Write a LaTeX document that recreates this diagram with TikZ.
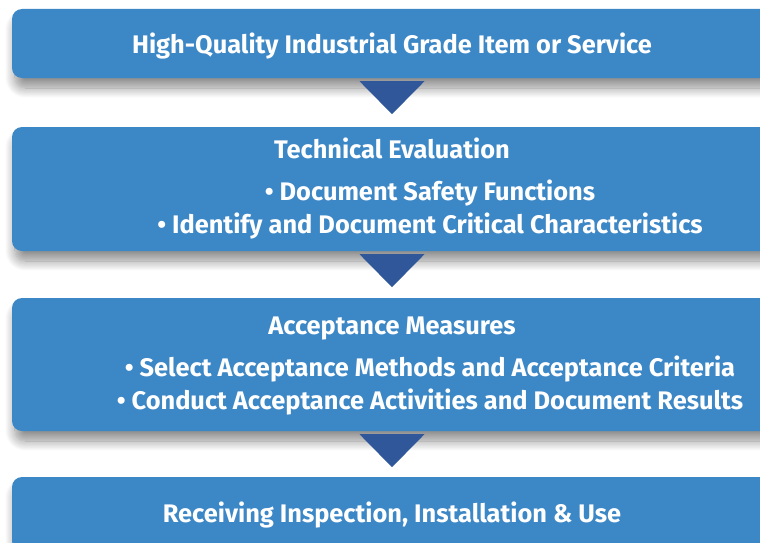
\documentclass[tikz,border=0pt]{standalone}
\usepackage{fontspec}
\setmainfont{Fira Sans}
\usetikzlibrary{calc,shadows.blur}

\definecolor{boxblue}{RGB}{60,135,198}
\definecolor{tridark}{RGB}{47,87,153}

\tikzset{
    stagebox/.style={fill=boxblue, rounded corners=10pt, minimum width=760pt,
        inner sep=0pt,
        blur shadow={shadow xshift=3pt, shadow yshift=-10pt, shadow blur radius=10pt,
            shadow blur steps=12, shadow opacity=45}},
    txt/.style={text=white, anchor=base, inner sep=0pt,
        font=\fontsize{25.4}{29}\selectfont\bfseries}
}

\begin{document}
\begin{tikzpicture}[x=1pt, y=-1pt]
            \useasboundingbox (0,0) rectangle (760,543);

            \node (B1) at (392,43.5) [stagebox, minimum height=69pt] {};
            \node (B2) at (392,189) [stagebox, minimum height=124pt] {};
            \node (B3) at (392,364.5) [stagebox, minimum height=133pt] {};
            \node (B4) at (392,514) [stagebox, minimum height=74pt] {};

            \foreach \n in {B1, B2, B3}
                {
                    \fill [tridark] ($(\n.south) + (-32.5,3)$) -- ($(\n.south) + (32.5,3)$)
                        -- ($(\n.south) + (0,36)$) -- cycle;
                }

                \node (T1) at (392,53) [txt] {High-Quality Industrial Grade Item or Service};
                \node (T2) at (392,158) [txt] {Technical Evaluation};
                \node (T2a) at (430,200) [txt] {\textbullet\ Document Safety Functions};
                \node (T2b) at (430,233) [txt] {\textbullet\ Identify and Document Critical Characteristics};
                \node (T3) at (392,334) [txt] {Acceptance Measures};
                \node (T3a) at (430,376) [txt] {\textbullet\ Select Acceptance Methods and Acceptance Criteria};
                \node (T3b) at (430,409) [txt] {\textbullet\ Conduct Acceptance Activities and Document Results};
                \node (T4) at (392,522) [txt] {Receiving Inspection, Installation \& Use};

        \end{tikzpicture}
\end{document}
